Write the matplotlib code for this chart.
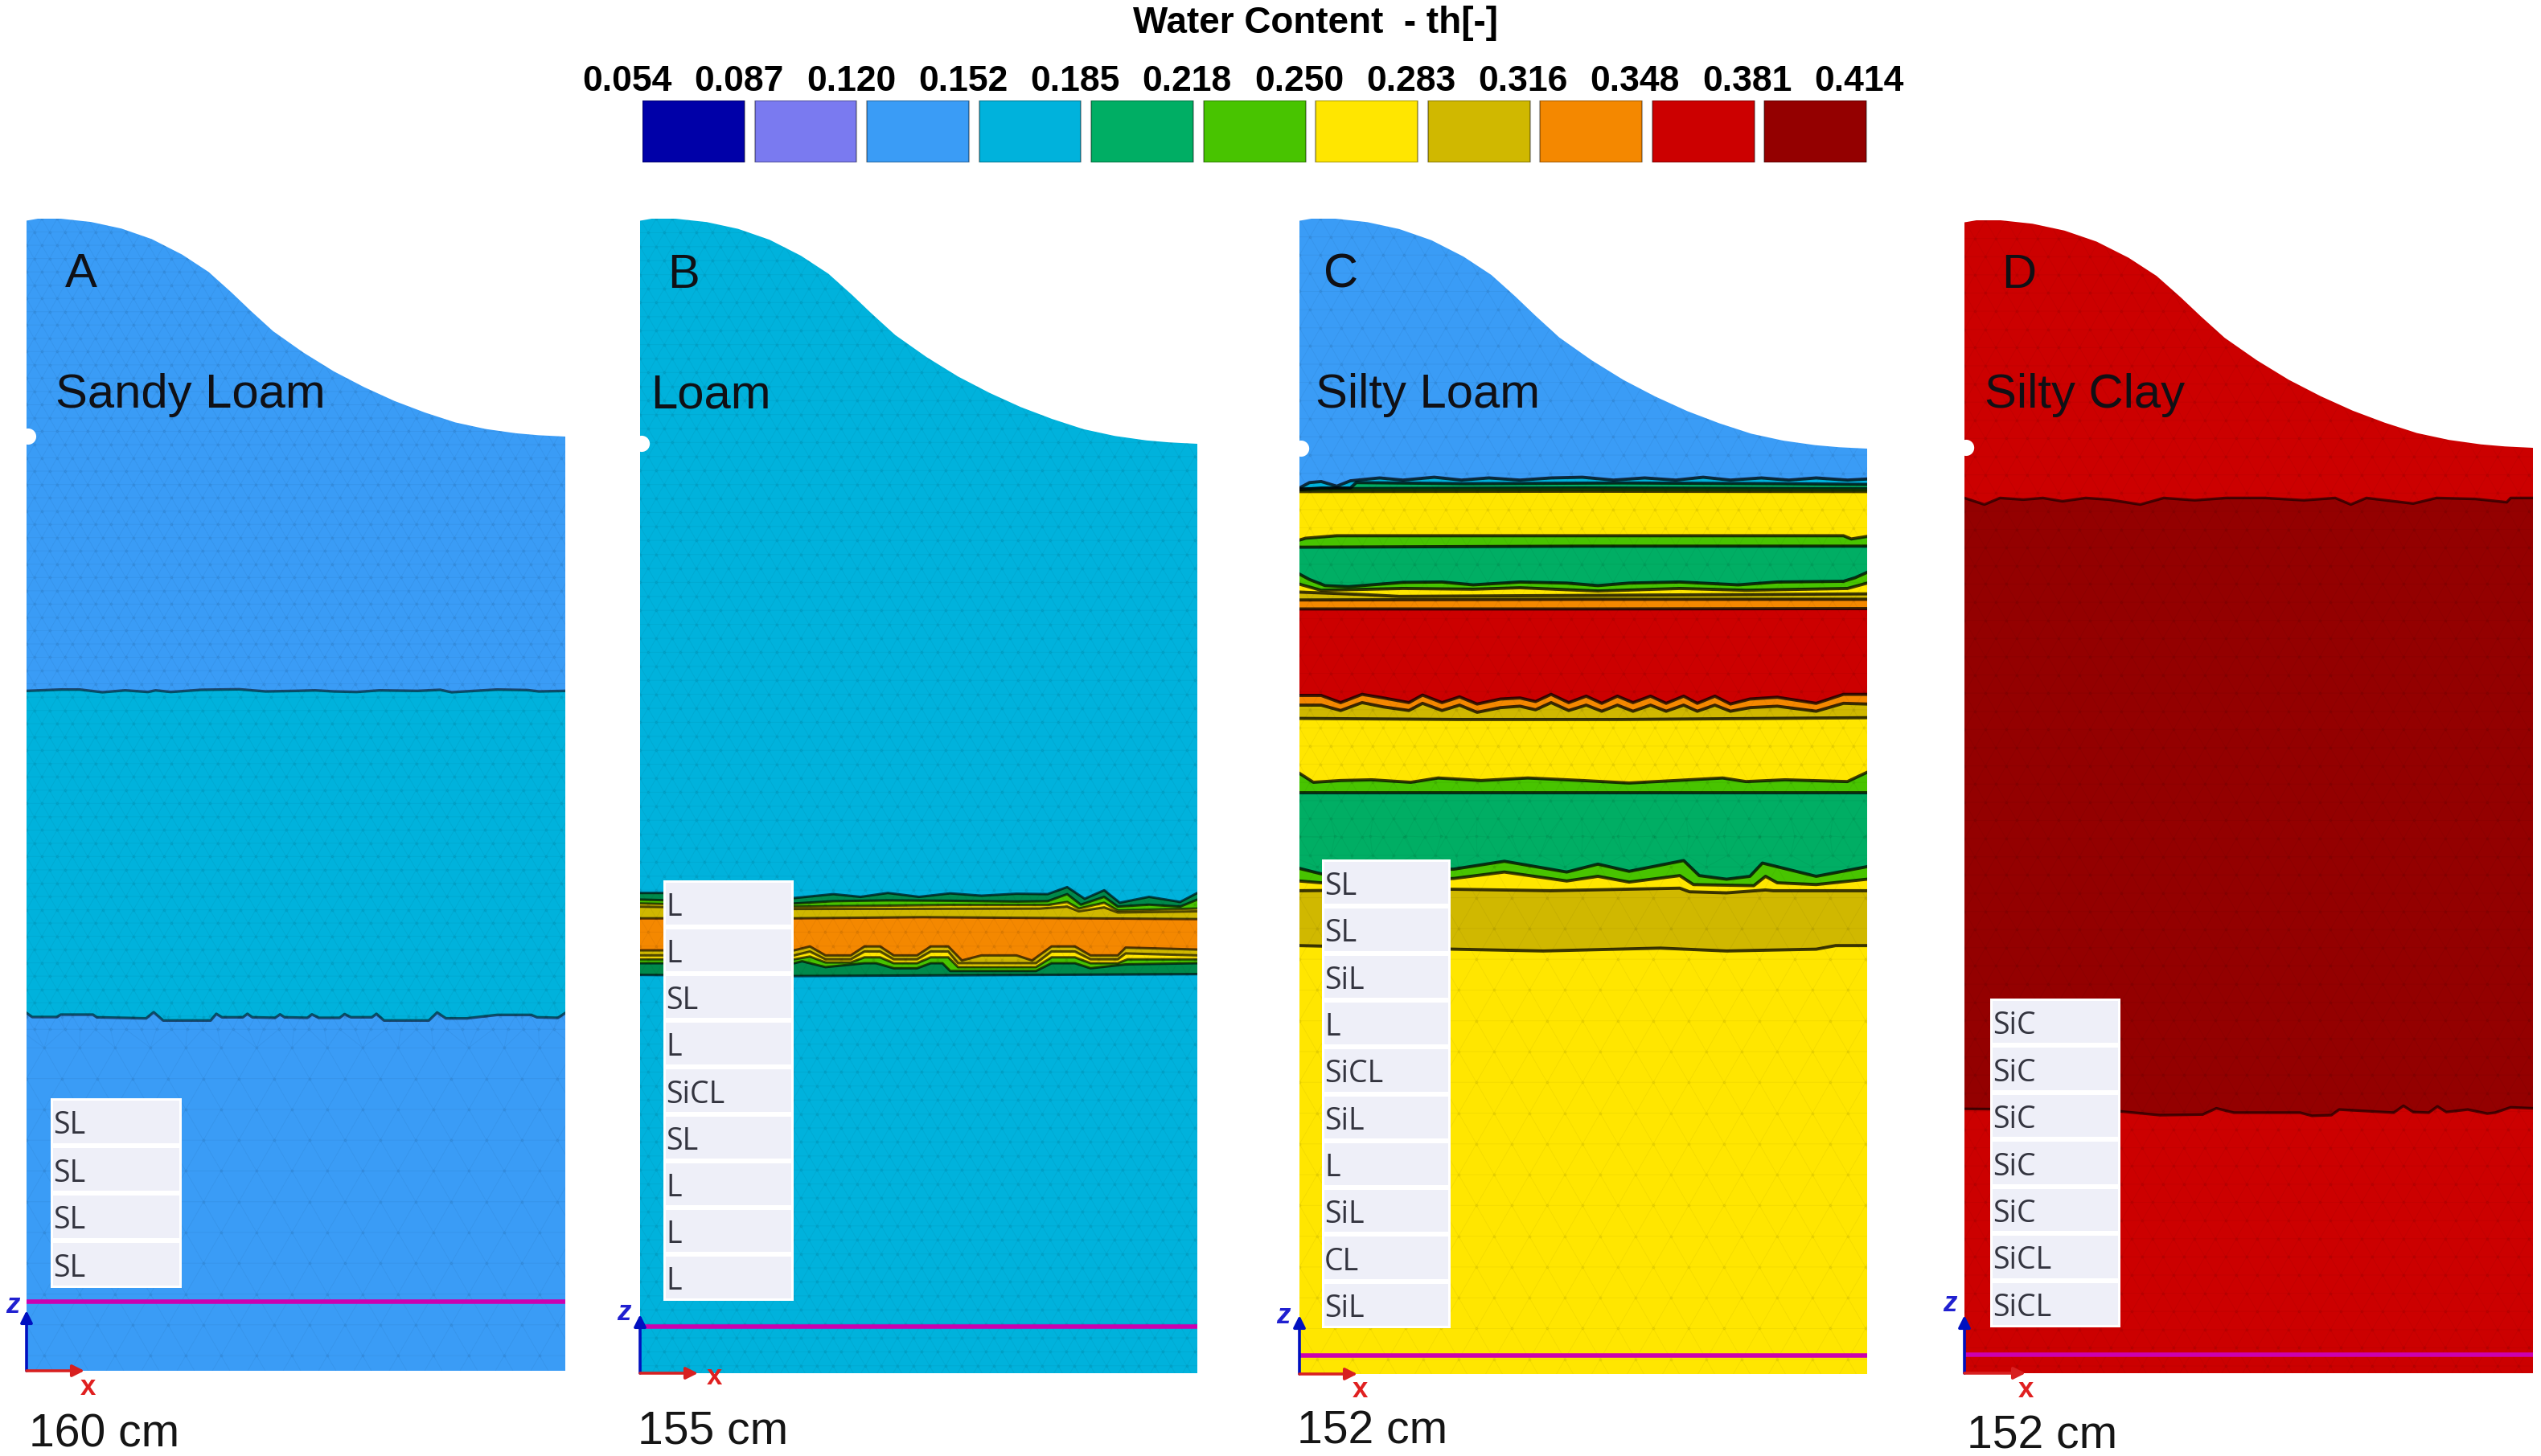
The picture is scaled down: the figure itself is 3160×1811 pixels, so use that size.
import numpy as np
import matplotlib
matplotlib.use("Agg")
import matplotlib.pyplot as plt
import matplotlib.tri as mtri
from matplotlib.patches import Polygon, Rectangle

W, H = 3160, 1811

# ---------- colour scale ----------
LEVELS = ["0.054", "0.087", "0.120", "0.152", "0.185", "0.218", "0.250", "0.283", "0.316", "0.348", "0.381", "0.414"]
NAVY, PERI, BLUE, TEAL, GREEN, LIME, YELL, KHAK, ORAN, RED, DRED = (
    "#0000a8", "#7a7af0", "#3a9cf6", "#00b2dc", "#00ae64", "#48c400",
    "#ffe600", "#d0b800", "#f48800", "#cc0000", "#940000")
CLASS_COLORS = [NAVY, PERI, BLUE, TEAL, GREEN, LIME, YELL, KHAK, ORAN, RED, DRED]
DGRN = "#008a4c"

# ---------- surface shape, read as (column, row) ----------
SURF_COL = [70, 100, 160, 240, 320, 400, 480, 550, 610, 660, 720, 800, 880, 960, 1040, 1120, 1200, 1280, 1360, 1420, 1490]
SURF_ROW = [62, 56, 56, 66, 86, 118, 165, 218, 280, 335, 398, 463, 520, 568, 610, 645, 675, 695, 708, 714, 718]

# ---------- soil textures by layer ----------
SOILS_A = ["SL", "SL", "SL", "SL"]
SOILS_B = ["L", "L", "SL", "L", "SiCL", "SL", "L", "L", "L"]
SOILS_C = ["SL", "SL", "SiL", "L", "SiCL", "SiL", "L", "SiL", "CL", "SiL"]
SOILS_D = ["SiC", "SiC", "SiC", "SiC", "SiC", "SiCL", "SiCL"]

A_1 = [(70,238),(160,233),(210,233),(270,243),(330,236),(390,242),(410,236),(450,242),(530,234),(630,232),(700,240),(780,238),(830,236),(880,240),(940,242),(1000,236),(1100,238),(1160,234),(1190,243),(1250,238),(1310,233),(1390,235),(1420,240),(1490,238)]
A_2 = [(70,1440),(85,1455),(150,1455),(160,1446),(245,1446),(255,1456),(385,1460),(405,1437),(430,1468),(555,1468),(570,1443),(585,1456),(640,1456),(652,1443),(665,1456),(725,1458),(738,1445),(750,1456),(810,1458),(822,1445),(840,1458),(895,1458),(908,1444),(925,1456),(980,1456),(992,1443),(1012,1468),(1130,1468),(1152,1438),(1175,1460),(1230,1460),(1310,1447),(1400,1447),(1415,1456),(1470,1458),(1490,1440)]

B_1 = [(75,125),(135,125),(470,138),(570,128),(640,135),(710,125),(790,135),(870,126),(950,132),(1040,127),(1120,128),(1170,110),(1215,140),(1265,118),(1305,150),(1380,135),(1460,148),(1503,125)]
B_2 = [(75,142),(470,152),(570,146),(710,144),(870,145),(1040,147),(1120,146),(1170,128),(1205,155),(1265,135),(1300,160),(1380,155),(1460,160),(1503,142)]
B_3 = [(75,152),(470,160),(870,156),(1120,156),(1170,148),(1200,165),(1265,150),(1300,170),(1503,165)]
B_4 = [(75,160),(470,166),(1100,165),(1170,160),(1200,172),(1265,162),(1300,175),(1503,172)]
B_5 = [(75,190),(470,190),(800,187),(1503,192)]
B_6 = [(75,272),(470,272),(510,262),(550,285),(615,285),(650,262),(690,262),(725,285),(785,285),(820,262),(865,262),(900,298),(950,285),(1040,285),(1080,298),(1130,262),(1190,262),(1230,285),(1300,285),(1320,265),(1503,270)]
B_7 = [(75,285),(470,285),(510,275),(550,295),(615,295),(650,275),(690,275),(725,295),(785,295),(820,275),(865,275),(890,305),(1090,305),(1130,275),(1190,275),(1230,295),(1300,295),(1320,280),(1503,285)]
B_8 = [(75,295),(470,295),(510,288),(550,303),(615,303),(650,290),(690,290),(725,305),(785,305),(820,290),(865,290),(890,315),(1090,315),(1130,290),(1190,290),(1230,305),(1300,305),(1325,295),(1503,295)]
B_9 = [(75,305),(470,305),(490,300),(550,315),(650,305),(680,305),(725,318),(785,318),(820,305),(850,305),(870,325),(1090,325),(1130,305),(1190,305),(1230,318),(1320,308),(1503,305)]
B_10 = [(75,335),(470,338),(1503,333)]

C_1 = [(75,150),(100,135),(130,132),(170,145),(205,130),(280,122),(340,128),(420,120),(490,128),(560,122),(640,128),(720,122),(800,120),(880,128),(960,122),(1040,128),(1110,120),(1180,128),(1260,122),(1330,128),(1400,122),(1480,128),(1530,125)]
C_2 = [(75,155),(130,150),(205,150),(220,135),(500,138),(900,136),(1300,138),(1530,140)]
C_3 = [(75,152),(800,150),(1530,152)]
C_4 = [(75,160),(800,159),(1530,160)]
C_5 = [(75,295),(90,290),(170,283),(1470,283),(1490,292),(1530,285)]
C_6 = [(75,315),(800,312),(1530,312)]
C_7 = [(75,390),(100,405),(140,422),(200,425),(340,413),(440,412),(520,420),(640,412),(760,415),(840,422),(920,415),(1050,412),(1200,420),(1300,412),(1470,410),(1500,400),(1530,385)]
C_8 = [(75,418),(130,435),(340,430),(520,432),(640,428),(840,437),(1050,430),(1220,435),(1480,430),(1530,415)]
C_9 = [(75,440),(240,447),(330,452),(1530,445)]
C_10 = [(75,462),(800,460),(1530,460)]
C_11 = [(75,487),(800,487),(1530,486)]
C_12 = [(75,728),(130,728),(180,748),(235,725),(290,735),(355,748),(390,727),(440,748),(485,732),(530,752),(590,738),(640,735),(680,745),(720,725),(765,748),(810,730),(850,750),(890,730),(930,748),(975,730),(1015,750),(1060,730),(1095,750),(1140,730),(1180,752),(1230,738),(1300,733),(1400,750),(1470,725),(1530,725)]
C_13 = [(75,755),(130,755),(180,770),(235,748),(290,760),(355,770),(390,750),(440,770),(485,755),(530,775),(590,762),(640,758),(680,768),(720,748),(765,770),(810,755),(850,772),(890,755),(930,772),(975,755),(1015,772),(1060,755),(1095,772),(1140,755),(1180,772),(1230,762),(1300,758),(1400,772),(1470,750),(1530,752)]
C_14 = [(75,792),(480,795),(900,795),(1530,790)]
C_15 = [(75,945),(110,970),(180,965),(260,963),(360,970),(430,958),(540,965),(660,958),(800,965),(920,972),(1040,965),(1160,958),(1220,968),(1320,963),(1480,968),(1530,942)]
C_16 = [(75,1000),(800,1000),(1530,1000)]
C_17 = [(75,1210),(130,1225),(470,1212),(600,1190),(760,1220),(840,1198),(920,1218),(1060,1188),(1100,1230),(1170,1240),(1230,1232),(1262,1195),(1400,1232),(1530,1205)]
C_18 = [(75,1245),(130,1250),(470,1238),(600,1220),(760,1245),(840,1232),(920,1248),(1050,1230),(1085,1255),(1240,1258),(1270,1232),(1300,1250),(1400,1255),(1530,1240)]
C_19 = [(75,1272),(470,1268),(720,1272),(1050,1265),(1075,1275),(1170,1278),(1270,1270),(1290,1272),(1530,1272)]
C_20 = [(75,1425),(470,1435),(700,1440),(1000,1432),(1170,1440),(1400,1435),(1450,1425),(1530,1425)]

D_1 = [(88,905),(140,925),(180,905),(240,910),(290,905),(340,915),(400,905),(460,910),(540,925),(600,905),(680,912),(760,905),(860,905),(960,912),(1040,905),(1080,925),(1120,905),(1240,922),(1300,905),(1400,908),(1480,918),(1490,905),(1547,905)]
D_2 = [(88,460),(300,462),(490,468),(590,480),(700,478),(735,458),(780,472),(950,472),(980,482),(1030,480),(1050,462),(1190,472),(1215,450),(1240,470),(1280,472),(1302,452),(1325,470),(1380,462),(1430,475),(1450,472),(1490,455),(1547,458)]

# ---------- layout (reference pixels) ----------
# view = (x origin, x magnification, y origin, y magnification)
VIEW_A = (0, 2.119, 780, 3.0)
VIEW_B = (760, 2.063, 1050, 2.06)
VIEW_C = (1580, 2.063, 540, 2.24)
VIEW_D1 = (2400, 2.063, 250, 2.45)
VIEW_D2 = (2400, 2.063, 1200, 2.566)

PANELS = [
    dict(box=(33, 703, 272, 1705), shoulder=543, base=BLUE, line_alpha=.55, line_w=2.4,
         layers=[(TEAL, A_1, VIEW_A), (BLUE, A_2, VIEW_A)],
         magenta=1619, soils=SOILS_A, table=(63, 226, 1366, 1602),
         letter="A", letter_xy=(81, 357), name="Sandy Loam", name_xy=(69, 507),
         depth="160 cm", depth_xy=(36, 1800), z_xy=(7, 1633), x_xy=(100, 1735),
         tip_z=1630, tip_x=105, mesh=[(272, 1265, 19), (1265, 1705, 44)]),
    dict(box=(796, 1489, 272, 1708), shoulder=552, base=TEAL, line_alpha=.65, line_w=2.2,
         layers=[(c, p, VIEW_B) for c, p in [
             (DGRN, B_1), (LIME, B_2), (YELL, B_3), (KHAK, B_4), (ORAN, B_5),
             (KHAK, B_6), (YELL, B_7), (LIME, B_8), (DGRN, B_9), (TEAL, B_10)]],
         magenta=1650, soils=SOILS_B, table=(825, 987, 1095, 1618),
         letter="B", letter_xy=(830, 358), name="Loam", name_xy=(809, 507),
         depth="155 cm", depth_xy=(793, 1795), z_xy=(767, 1642), x_xy=(879, 1722),
         tip_z=1635, tip_x=868, mesh=[(272, 1708, 20)]),
    dict(box=(1616, 2322, 272, 1709), shoulder=558, base=BLUE, line_alpha=.75, line_w=2.8,
         layers=[(c, p, VIEW_C) for c, p in [
             (TEAL, C_1), (GREEN, C_2), (LIME, C_3), (YELL, C_4), (LIME, C_5), (GREEN, C_6),
             (LIME, C_7), (YELL, C_8), (KHAK, C_9), (ORAN, C_10), (RED, C_11), (ORAN, C_12),
             (KHAK, C_13), (YELL, C_14), (LIME, C_15), (GREEN, C_16), (LIME, C_17), (YELL, C_18),
             (KHAK, C_19), (YELL, C_20)]],
         magenta=1686, soils=SOILS_C, table=(1644, 1804, 1069, 1652),
         letter="C", letter_xy=(1646, 358), name="Silty Loam", name_xy=(1636, 507),
         depth="152 cm", depth_xy=(1613, 1796), z_xy=(1587, 1646), x_xy=(1682, 1738),
         tip_z=1636, tip_x=1688, mesh=[(272, 1040, 26), (1040, 1709, 44)]),
    dict(box=(2443, 3150, 274, 1708), shoulder=557, base=RED, line_alpha=.6, line_w=2.4,
         layers=[(DRED, D_1, VIEW_D1), (RED, D_2, VIEW_D2)],
         magenta=1685, soils=SOILS_D, table=(2475, 2637, 1242, 1651),
         letter="D", letter_xy=(2489, 358), name="Silty Clay", name_xy=(2468, 507),
         depth="152 cm", depth_xy=(2446, 1802), z_xy=(2416, 1631), x_xy=(2510, 1738),
         tip_z=1636, tip_x=2519, mesh=[(274, 1708, 26)]),
]

fig = plt.figure(figsize=(W / 100, H / 100), dpi=100, facecolor="white")
SANS = "Liberation Sans"


def fig_text(px, py, s, **kw):
    kw.setdefault("family", SANS)
    kw.setdefault("va", "baseline")
    fig.text(px / W, 1 - py / H, s, **kw)


# ---------- colour bar ----------
cb = fig.add_axes([799 / W, 1 - 202 / H, (2334 - 799) / W, (202 - 125) / H])
cb.set_xlim(0, 11)
cb.set_ylim(0, 1)
cb.axis("off")
cb.bar(np.arange(len(CLASS_COLORS)), 1, width=.909, align="edge", color=CLASS_COLORS,
       edgecolor="#00000055", linewidth=1.5)
for i, lab in enumerate(LEVELS):
    cb.text(i * .998 - .136, 1.156, lab, ha="center", va="baseline", fontsize=32,
            fontweight="bold", family=SANS, color="black", clip_on=False)
fig_text(1636, 41, "Water Content  - th[-]", ha="center", fontsize=33, fontweight="bold", color="black")

# ---------- panels ----------
surf_col = np.array(SURF_COL, dtype=float)
surf_row = np.array(SURF_ROW, dtype=float)
sx = (surf_col - surf_col[0]) / (surf_col[-1] - surf_col[0])
sdrop = (surf_row - surf_row.min()) / (surf_row.max() - surf_row.min())

for p in PANELS:
    L, R, T, B = p["box"]
    ax = fig.add_axes([L / W, 1 - B / H, (R - L) / W, (B - T) / H])
    ax.set_xlim(0, 1)
    ax.set_ylim(B - T, 0)
    ax.axis("off")

    sd = sdrop * (p["shoulder"] - T)
    outline = np.column_stack([np.r_[0, sx, 1, 1, 0], np.r_[sd[0], sd, sd[-1], B - T, B - T]])
    soil = Polygon(outline, closed=True, facecolor=p["base"], edgecolor="none", zorder=1)
    ax.add_patch(soil)

    for z, (color, pts, view) in enumerate(p["layers"]):
        x0, xs, y0, ys = view
        arr = np.array(pts, dtype=float)
        xf = np.clip((x0 + arr[:, 0] / xs - L) / (R - L), 0, 1)
        xf[0], xf[-1] = 0, 1
        d = y0 + arr[:, 1] / ys - T
        ax.fill(np.r_[xf, 1, 0], np.r_[d, B - T, B - T], color=color, lw=0, zorder=2 + z * .01)
        ax.plot(xf, d, color="black", alpha=p["line_alpha"], lw=p["line_w"], zorder=2.5 + z * .01,
                solid_joinstyle="round")

    # finite-element mesh texture
    xs_all, ds_all = [], []
    for top, bot, step in p["mesh"]:
        rows = np.arange(top - T, bot - T + step, step * .87)
        for k, row in enumerate(rows):
            cols = np.arange(-step, R - L + step, step) + (step / 2 if k % 2 else 0)
            xs_all.append(cols)
            ds_all.append(np.full(cols.shape, row))
    xpx, dpx = np.concatenate(xs_all), np.concatenate(ds_all)
    tri_px = mtri.Triangulation(xpx, dpx)
    mesh = mtri.Triangulation(xpx / (R - L), dpx, triangles=tri_px.triangles)
    artists = ax.triplot(mesh, color="black", lw=.7, alpha=.045, marker=".", ms=4, zorder=3)
    for art in artists:
        art.set_clip_path(soil)

    # observation node on the left boundary
    ax.scatter([.003], [p["shoulder"] - T], s=210, color="white", edgecolor="none", zorder=4, clip_on=False)

    # magenta water-table line
    ax.plot([0, 1], [p["magenta"] - T] * 2, color="#cc00b0", lw=4.0, zorder=5, solid_capstyle="butt", clip_on=False)

    # coordinate triad
    ax.annotate("", xy=(0, p["tip_z"] - T), xytext=(0, B - T), annotation_clip=False, zorder=6,
                arrowprops=dict(arrowstyle="-|>", color="#0010c0", lw=2.6, mutation_scale=22, shrinkA=0, shrinkB=0))
    ax.annotate("", xy=((p["tip_x"] - L) / (R - L), B - T), xytext=(0, B - T), annotation_clip=False, zorder=6,
                arrowprops=dict(arrowstyle="-|>", color="#d82020", lw=2.6, mutation_scale=22, shrinkA=0, shrinkB=0))
    fig_text(*p["z_xy"], "z", color="#2020d0", fontsize=25, fontweight="bold", style="italic")
    fig_text(*p["x_xy"], "x", color="#e02020", fontsize=25, fontweight="bold")

    # soil-layer table
    tl, tr, tt, tb = p["table"]
    ax.add_patch(Rectangle(((tl - L) / (R - L), tt - T), (tr - tl) / (R - L), tb - tt,
                           facecolor="white", edgecolor="none", zorder=7))
    n = len(p["soils"])
    rh = (tb - tt) / n
    for i, soil_name in enumerate(p["soils"]):
        ax.add_patch(Rectangle(((tl + 3 - L) / (R - L), tt - T + i * rh + 3), (tr - tl - 6) / (R - L), rh - 6,
                               facecolor="#eeeff8", edgecolor="none", zorder=8))
        ax.text((tl + 3 - L) / (R - L), tt - T + (i + .5) * rh + 5, soil_name, va="center", ha="left",
                family="Open Sans", fontsize=27, color="#33343f", zorder=9)

    # labels
    fig_text(*p["letter_xy"], p["letter"], fontsize=43, color="#101015", zorder=10)
    fig_text(*p["name_xy"], p["name"], fontsize=43, color="#101015", zorder=10)
    fig_text(*p["depth_xy"], p["depth"], fontsize=41, color="#151515", zorder=10)

fig.savefig("out.png", dpi=100, facecolor="white")
